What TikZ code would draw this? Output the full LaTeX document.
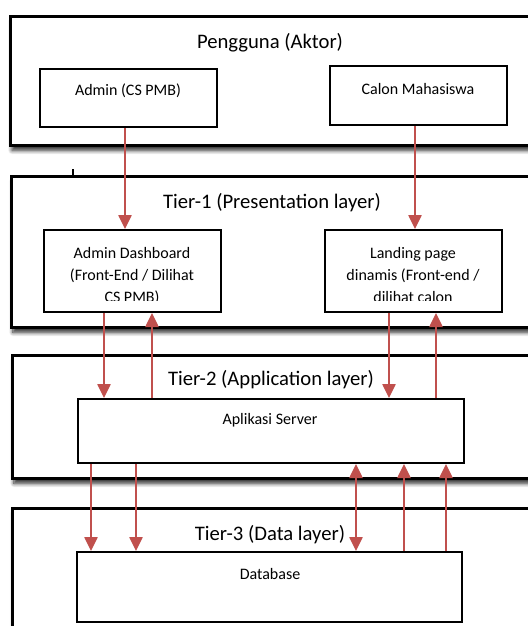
\documentclass[tikz,border=0pt]{standalone}
\usepackage{fontspec}
\setmainfont{Carlito}
\usetikzlibrary{arrows.meta,shadows.blur}
\definecolor{arrowred}{RGB}{192,80,77}
\begin{document}
\begin{tikzpicture}[x=0.75pt,y=-0.75pt,
  layerbox/.style={draw=black,line width=2.25pt,fill=white,
    blur shadow={shadow xshift=1.5pt,shadow yshift=-4pt,shadow blur radius=3pt,shadow blur steps=8,shadow opacity=85}},
  box/.style={draw=black,line width=1.5pt,fill=white,inner sep=0pt},
  title/.style={font=\fontsize{15.5}{18}\selectfont,inner sep=0pt},
  lbl/.style={font=\fontsize{12}{16.5}\selectfont,inner sep=0pt,align=center},
  flow/.style={draw=arrowred,line width=1.1pt,-{Triangle[length=10.5pt,width=10pt]}},
  flow2/.style={draw=arrowred,line width=1.1pt,{Triangle[length=10.5pt,width=10pt]}-{Triangle[length=10.5pt,width=10pt]}},
]
\useasboundingbox (0,0) rectangle (528,626);

% layer containers (running off the right edge)
\path[layerbox] (10,16) rectangle (545,145);
\path[layerbox] (11,176) rectangle (545,327);
\path[layerbox] (12,355) rectangle (545,478);
\path[layerbox] (12,508) rectangle (545,660);

\node[title] (t0) at (270,43) {Pengguna (Aktor)};
\node[title] (t1) at (272,203) {Tier-1 (Presentation layer)};
\node[title] (t2) at (271,380) {Tier-2 (Application layer)};
\node[title] (t3) at (270,535) {Tier-3 (Data layer)};

\draw[line width=1pt] (73,169) -- (73,176);

% actors
\node[box,minimum width=177*0.75pt,minimum height=58*0.75pt] (admin) at (128.5,98) {};
\node[lbl] (admintx) at (128,91) {Admin (CS PMB)};
\node[box,minimum width=177*0.75pt,minimum height=59*0.75pt] (calon) at (418.5,95.5) {};
\node[lbl] (calontx) at (418,89) {Calon Mahasiswa};

% presentation tier (text box cuts off the last line)
\node[box,minimum width=177*0.75pt,minimum height=82*0.75pt] (dash) at (132.5,271) {};
\node[box,minimum width=177*0.75pt,minimum height=82*0.75pt] (landing) at (413.5,271) {};
\begin{scope}
  \clip (44,230) rectangle (221,300);
  \node[lbl,anchor=base] (dashtx) at (132,302.5) {Admin Dashboard\\(Front-End / Dilihat\\CS PMB)};
\end{scope}
\begin{scope}
  \clip (325,230) rectangle (502,300);
  \node[lbl,anchor=base] (landtx) at (413,302.5) {Landing page\\dinamis (Front-end /\\dilihat calon};
\end{scope}

% application tier
\node[box,minimum width=386*0.75pt,minimum height=64*0.75pt] (server) at (271,431) {};
\node[lbl] (servertx) at (270,420) {Aplikasi Server};

% data tier
\node[box,minimum width=385*0.75pt,minimum height=70*0.75pt] (db) at (269.5,587) {};
\node[lbl] (dbtx) at (270,574) {Database};

% request / response flows
\draw[flow] (125,0 |- admin.south) -- (125,0 |- dash.north);
\draw[flow] (415,0 |- calon.south) -- (415,0 |- landing.north);

\draw[flow] (104,0 |- dash.south) -- (104,0 |- server.north);
\draw[flow] (152,0 |- server.north) -- (152,0 |- dash.south);
\draw[flow] (389,0 |- landing.south) -- (389,0 |- server.north);
\draw[flow] (436,0 |- server.north) -- (436,0 |- landing.south);

\draw[flow] (91,0 |- server.south) -- (91,0 |- db.north);
\draw[flow] (136,0 |- server.south) -- (136,0 |- db.north);
\draw[flow2] (356,0 |- server.south) -- (356,0 |- db.north);
\draw[flow] (404,0 |- db.north) -- (404,0 |- server.south);
\draw[flow] (446,0 |- db.north) -- (446,0 |- server.south);
\end{tikzpicture}
\end{document}
